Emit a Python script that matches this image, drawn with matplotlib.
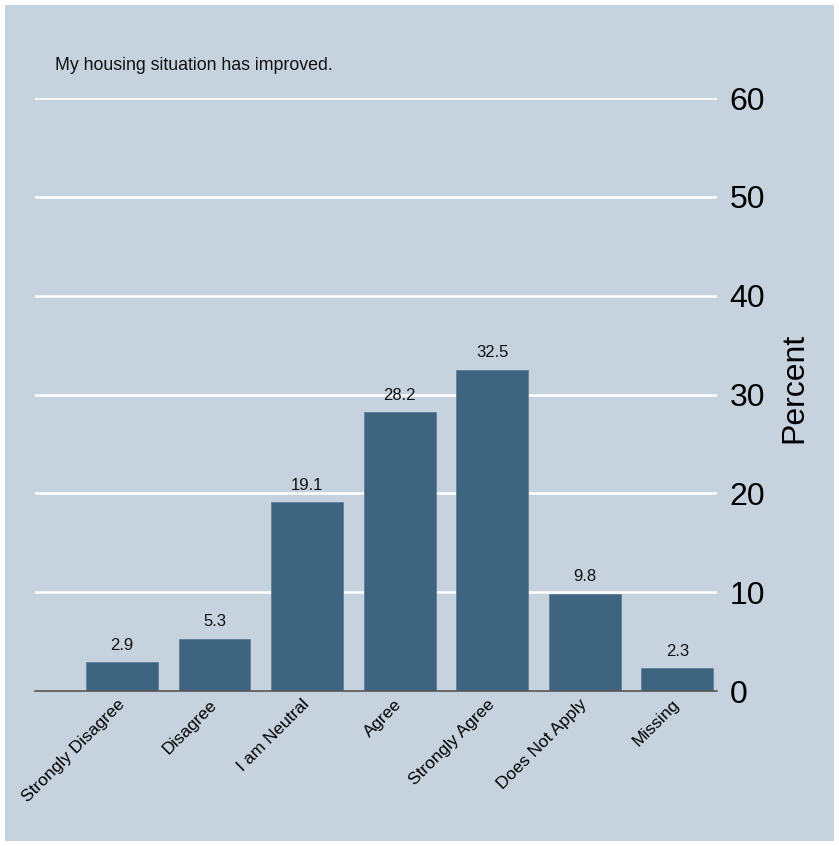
import matplotlib
matplotlib.use("Agg")
import matplotlib.pyplot as plt
from matplotlib.patches import Rectangle

plt.rcParams['font.family'] = ['Liberation Sans', 'DejaVu Sans']

categories = ["Strongly Disagree", "Disagree", "I am Neutral", "Agree",
              "Strongly Agree", "Does Not Apply", "Missing"]
percent = [2.9, 5.3, 19.1, 28.2, 32.5, 9.8, 2.3]
yticks = [0, 10, 20, 30, 40, 50, 60]
title = "My housing situation has improved."

bg = "#C6D3DF"
bar_color = "#3E6480"

W, H = 839, 846
fig = plt.figure(figsize=(W / 100, H / 100), dpi=100, facecolor="white")

# shaded graph region inside a thin white margin, drawn beneath the axes
fig.patches.append(Rectangle((5 / W, 5 / H), (W - 10) / W, (H - 10) / H,
                             transform=fig.transFigure, facecolor=bg,
                             edgecolor="none", zorder=-10))

ax = fig.add_axes([35 / W, 155 / H, 682 / W, 593 / H])
ax.patch.set_alpha(0)

x = list(range(len(categories)))
bars = ax.bar(x, percent, width=0.776, color=bar_color,
              edgecolor="#5F7F97", linewidth=0.6, zorder=3)

for xi, v in zip(x, percent):
    ax.annotate(f"{v:.1f}", xy=(xi, v), xytext=(0, 7),
                textcoords="offset points", ha="center", va="bottom",
                fontsize=12, color="#111111")

ax.set_xlim(-0.94, 6.43)
ax.set_ylim(0, 60)
ax.set_yticks(yticks)
ax.yaxis.tick_right()
ax.yaxis.set_label_position("right")
ax.tick_params(axis="y", length=0, pad=9, labelsize=23)
ax.grid(axis="y", color="white", linewidth=1.8, zorder=1)
ax.set_axisbelow(True)
ax.set_ylabel("Percent", fontsize=23)
ax.yaxis.set_label_coords(1.091, 0.512)

ax.set_xticks(x)
ax.set_xticklabels(categories, rotation=45, ha="right", va="center",
                   rotation_mode="anchor", fontsize=12.5)
ax.tick_params(axis="x", length=0, pad=8)

for side in ["top", "right", "left"]:
    ax.spines[side].set_visible(False)
ax.spines["bottom"].set_color("#555555")
ax.spines["bottom"].set_linewidth(1.2)
ax.spines["bottom"].set_zorder(4)

fig.text(55 / W, 1 - 65 / H, title, fontsize=12.8, ha="left", va="center",
         color="#111111")

fig.savefig("out.png", dpi=100, facecolor="white")
